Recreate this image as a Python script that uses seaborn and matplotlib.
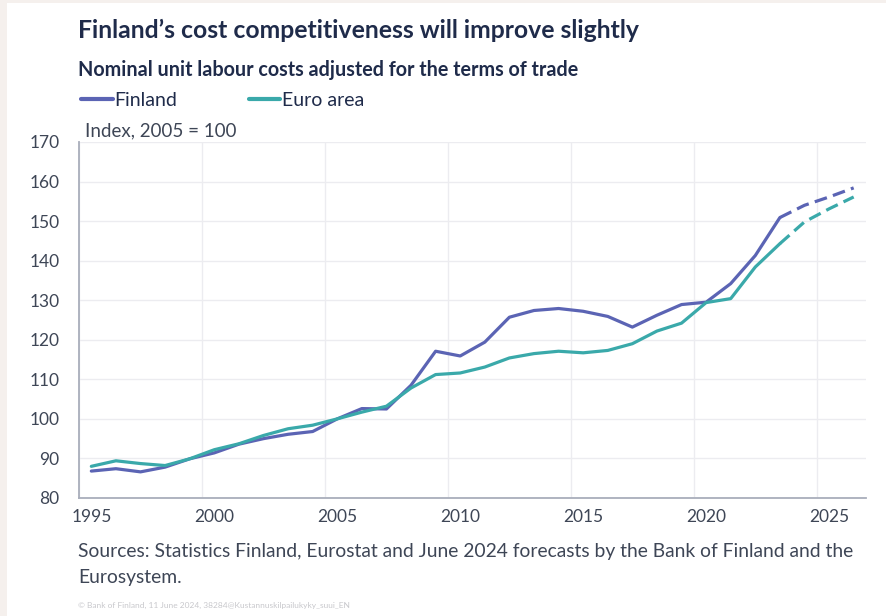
import matplotlib
matplotlib.use('Agg')
import matplotlib.pyplot as plt
from matplotlib.lines import Line2D
from matplotlib.patches import Rectangle
import numpy as np
import pandas as pd
import seaborn as sns

# values (index, 2005 = 100)
years = list(range(1995, 2027))
finland = [86.8, 87.4, 86.6, 87.8, 89.9, 91.4, 93.6, 95.0, 96.1, 96.8,
           100.0, 102.6, 102.5, 108.5, 117.1, 115.9, 119.4, 125.7, 127.4, 127.9,
           127.2, 125.9, 123.2, 126.2, 128.9, 129.5, 134.2, 141.3, 150.9, 154.0,
           156.1, 158.4]
euro_area = [88.0, 89.4, 88.7, 88.2, 89.9, 92.2, 93.7, 95.8, 97.5, 98.4,
             100.0, 101.7, 103.2, 107.8, 111.2, 111.6, 113.1, 115.4, 116.5, 117.1,
             116.7, 117.3, 119.0, 122.2, 124.2, 129.4, 130.4, 138.4, 144.3, 149.8,
             153.1, 156.1]
last_actual = 2023
series_names = ['Finland', 'Euro area']
colors = {'Finland': '#5b64b4', 'Euro area': '#3aa9aa'}

rows = []
for name, vals in zip(series_names, [finland, euro_area]):
    for yr, v in zip(years, vals):
        if yr <= last_actual:
            rows.append((yr, v, name, 'actual'))
        if yr >= last_actual:
            rows.append((yr, v, name, 'forecast'))
df = pd.DataFrame(rows, columns=['year', 'value', 'series', 'phase'])

sns.set_style('white')
plt.rcParams['font.family'] = ['Lato', 'DejaVu Sans']
text_col = '#1f2b4a'
tick_col = '#3e4656'

fig = plt.figure(figsize=(8.87, 6.16), dpi=100, facecolor='#f5f0ed')
fig.add_artist(Rectangle((7 / 887, 0), 1, 1 - 3 / 616, transform=fig.transFigure,
                         facecolor='white', edgecolor='none', zorder=-10))
ax = fig.add_axes([0.0891, 0.1916, 0.8872, 0.5779])

sns.lineplot(data=df, x='year', y='value', hue='series', style='phase',
             palette=colors, dashes={'actual': '', 'forecast': (4, 2)},
             linewidth=2.3, legend=False, ax=ax)

ax.set_xlim(1994.5, 2026.5)
ax.set_ylim(80, 170)
ax.set_xticks(range(1995, 2026, 5))
ax.set_xticks(np.arange(1994.5, 2026, 5), minor=True)
ax.set_yticks(range(80, 171, 10))
ax.grid(True, which='minor', axis='x', color='#ececf0', lw=1)
ax.grid(True, which='major', axis='y', color='#ececf0', lw=1)
ax.grid(False, which='major', axis='x')
ax.tick_params(axis='both', which='both', length=0, labelsize=12.5,
               labelcolor=tick_col)
ax.tick_params(axis='x', pad=8)
ax.tick_params(axis='y', pad=14)
ax.set_xlabel('')
ax.set_ylabel('')
for side in ['top', 'right']:
    ax.spines[side].set_visible(False)
for side in ['left', 'bottom']:
    ax.spines[side].set_color('#a9aebb')
    ax.spines[side].set_linewidth(1.3)

fig.text(78 / 887, 1 - 30 / 616, 'Finland\u2019s cost competitiveness will improve slightly',
         fontsize=17.8, fontweight='bold', color=text_col, va='center')
fig.text(78 / 887, 1 - 70 / 616, 'Nominal unit labour costs adjusted for the terms of trade',
         fontsize=14.2, fontweight='bold', color=text_col, va='center')
fig.text(85 / 887, 1 - 131 / 616, 'Index, 2005 = 100',
         fontsize=13.5, color=tick_col, va='center')

handles = [Line2D([], [], color=colors[n], lw=3) for n in series_names]
fig.legend(handles, series_names, loc='center left', bbox_to_anchor=(64 / 887, 1 - 100 / 616),
           ncol=2, frameon=False, fontsize=14, handlelength=1.6, handletextpad=0.1,
           columnspacing=3.7, labelcolor=text_col)

fig.text(78 / 887, 1 - 552 / 616,
         'Sources: Statistics Finland, Eurostat and June 2024 forecasts by the Bank of Finland and the',
         fontsize=13.9, color=tick_col, va='center')
fig.text(78 / 887, 1 - 578 / 616, 'Eurosystem.', fontsize=13.9, color=tick_col, va='center')
fig.text(78 / 887, 1 - 605 / 616,
         '\u00a9 Bank of Finland, 11 June 2024, 38284@Kustannuskilpailukyky_suui_EN',
         fontsize=6, color='#c8c8cc', va='center')

fig.savefig('out.png', dpi=100, facecolor=fig.get_facecolor())
